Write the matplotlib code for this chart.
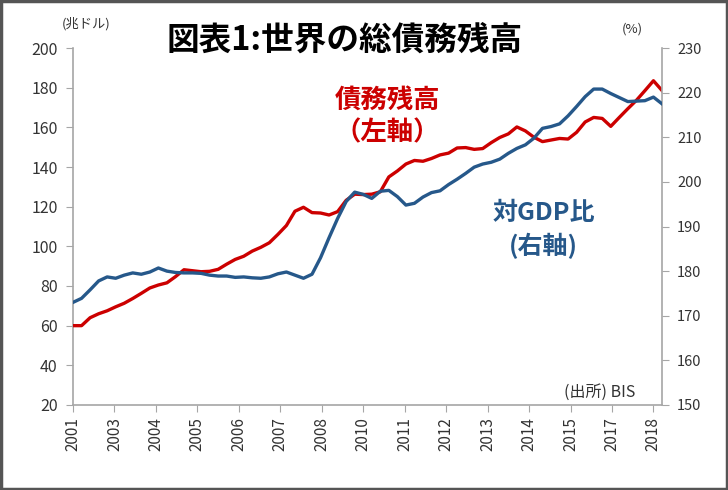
import matplotlib
matplotlib.use("Agg")
import matplotlib.pyplot as plt
import numpy as np
from matplotlib.patches import Rectangle

plt.rcParams['font.family'] = ['Noto Sans CJK JP', 'DejaVu Sans']

# Total debt (trillion USD, left axis)
debt = [60, 60, 64, 66, 67.5, 69.5, 71.3, 73.7, 76.3, 79,
        80.5, 81.6, 84.7, 88.2, 87.7, 87.2, 87.4, 88.4, 91, 93.4,
        95, 97.6, 99.5, 101.8, 106, 110.5, 117.7, 119.7, 117, 116.8,
        115.8, 117.5, 123.2, 126.3, 126.1, 126.3, 127.5, 135, 138, 141.5,
        143.3, 142.9, 144.3, 146.1, 147, 149.6, 149.8, 148.9, 149.3, 152.3,
        154.9, 156.7, 160.2, 158.2, 155, 152.8, 153.6, 154.4, 154.1, 157.5,
        162.7, 165, 164.5, 160.5, 165, 169.4, 173.6, 178.5, 183.5, 178.6]

# Debt to GDP ratio (%, right axis)
ratio = [173.0, 173.9, 175.8, 177.8, 178.7, 178.4, 179.1, 179.6, 179.3, 179.8,
         180.7, 180.0, 179.7, 179.6, 179.6, 179.5, 179.1, 178.9, 178.9, 178.6,
         178.7, 178.5, 178.4, 178.7, 179.4, 179.8, 179.1, 178.4, 179.3, 183.0,
         187.5, 191.8, 195.6, 197.7, 197.2, 196.3, 197.9, 198.1, 196.7, 194.8,
         195.2, 196.6, 197.6, 198.0, 199.4, 200.6, 201.9, 203.3, 204.0, 204.4,
         205.1, 206.4, 207.5, 208.3, 209.8, 212.0, 212.4, 213.0, 214.8, 216.9,
         219.1, 220.8, 220.8, 219.8, 218.9, 218.0, 218.1, 218.2, 219.0, 217.5]

xlabels = ['2001', '2003', '2004', '2005', '2006', '2007', '2008', '2010',
           '2011', '2012', '2013', '2014', '2015', '2017', '2018']

red = '#CC0000'
blue = '#26588A'
gray = '#A6A6A6'

fig = plt.figure(figsize=(7.28, 4.9), dpi=100)
ax = fig.add_axes([0.1003, 0.1735, 0.8090, 0.7285])
ax2 = ax.twinx()

x = np.arange(len(debt))
ax.plot(x, debt, color=red, lw=2.4, solid_joinstyle='round', zorder=3)
ax2.plot(x, ratio, color=blue, lw=2.4, solid_joinstyle='round', zorder=3)

ax.set_xlim(0, len(debt) - 1)
ax.set_ylim(20, 200)
ax2.set_ylim(150, 230)
ax.set_yticks(np.arange(20, 201, 20))
ax2.set_yticks(np.arange(150, 231, 10))
ax.set_xticks(np.linspace(0, 68, len(xlabels)))
ax.set_xticklabels(xlabels, rotation=90)

for a in (ax, ax2):
    a.spines['top'].set_visible(False)
    for s in ('left', 'right', 'bottom'):
        a.spines[s].set_color(gray)
        a.spines[s].set_linewidth(1.2)
ax.spines['right'].set_visible(False)
ax2.spines['left'].set_visible(False)
ax2.spines['bottom'].set_visible(False)

ax.tick_params(axis='y', direction='out', length=5, color=gray, labelsize=11.5,
               labelcolor='#333333', pad=6)
ax.tick_params(axis='x', direction='out', length=5, color=gray, labelsize=11,
               labelcolor='#333333', pad=4)
ax2.tick_params(axis='y', direction='out', length=5, color=gray, labelsize=10.5,
                labelcolor='#333333', pad=6)

fig.text(0.474, 0.918, '図表1:世界の総債務残高', fontsize=23.5, fontweight='bold',
         ha='center', va='center', color='black')
fig.text(0.118, 0.952, '(兆ドル)', fontsize=9.5, ha='center', va='center', color='#333333')
fig.text(0.868, 0.94, '(%)', fontsize=9.5, ha='center', va='center', color='#333333')

fig.text(0.532, 0.796, '債務残高', fontsize=19, fontweight='bold', color=red,
         ha='center', va='center')
fig.text(0.532, 0.729, '（左軸）', fontsize=19, fontweight='bold', color=red,
         ha='center', va='center')
fig.text(0.747, 0.565, '対GDP比', fontsize=18, fontweight='bold', color=blue,
         ha='center', va='center')
fig.text(0.747, 0.498, '(右軸)', fontsize=18, fontweight='bold', color=blue,
         ha='center', va='center')
fig.text(0.824, 0.2, '(出所) BIS', fontsize=11.5, color='#333333',
         ha='center', va='center')

fig.patches.append(Rectangle((0.002, 0.003), 0.996, 0.994, transform=fig.transFigure,
                             fill=False, edgecolor='#555555', linewidth=2.5))

fig.savefig('out.png', dpi=100)
